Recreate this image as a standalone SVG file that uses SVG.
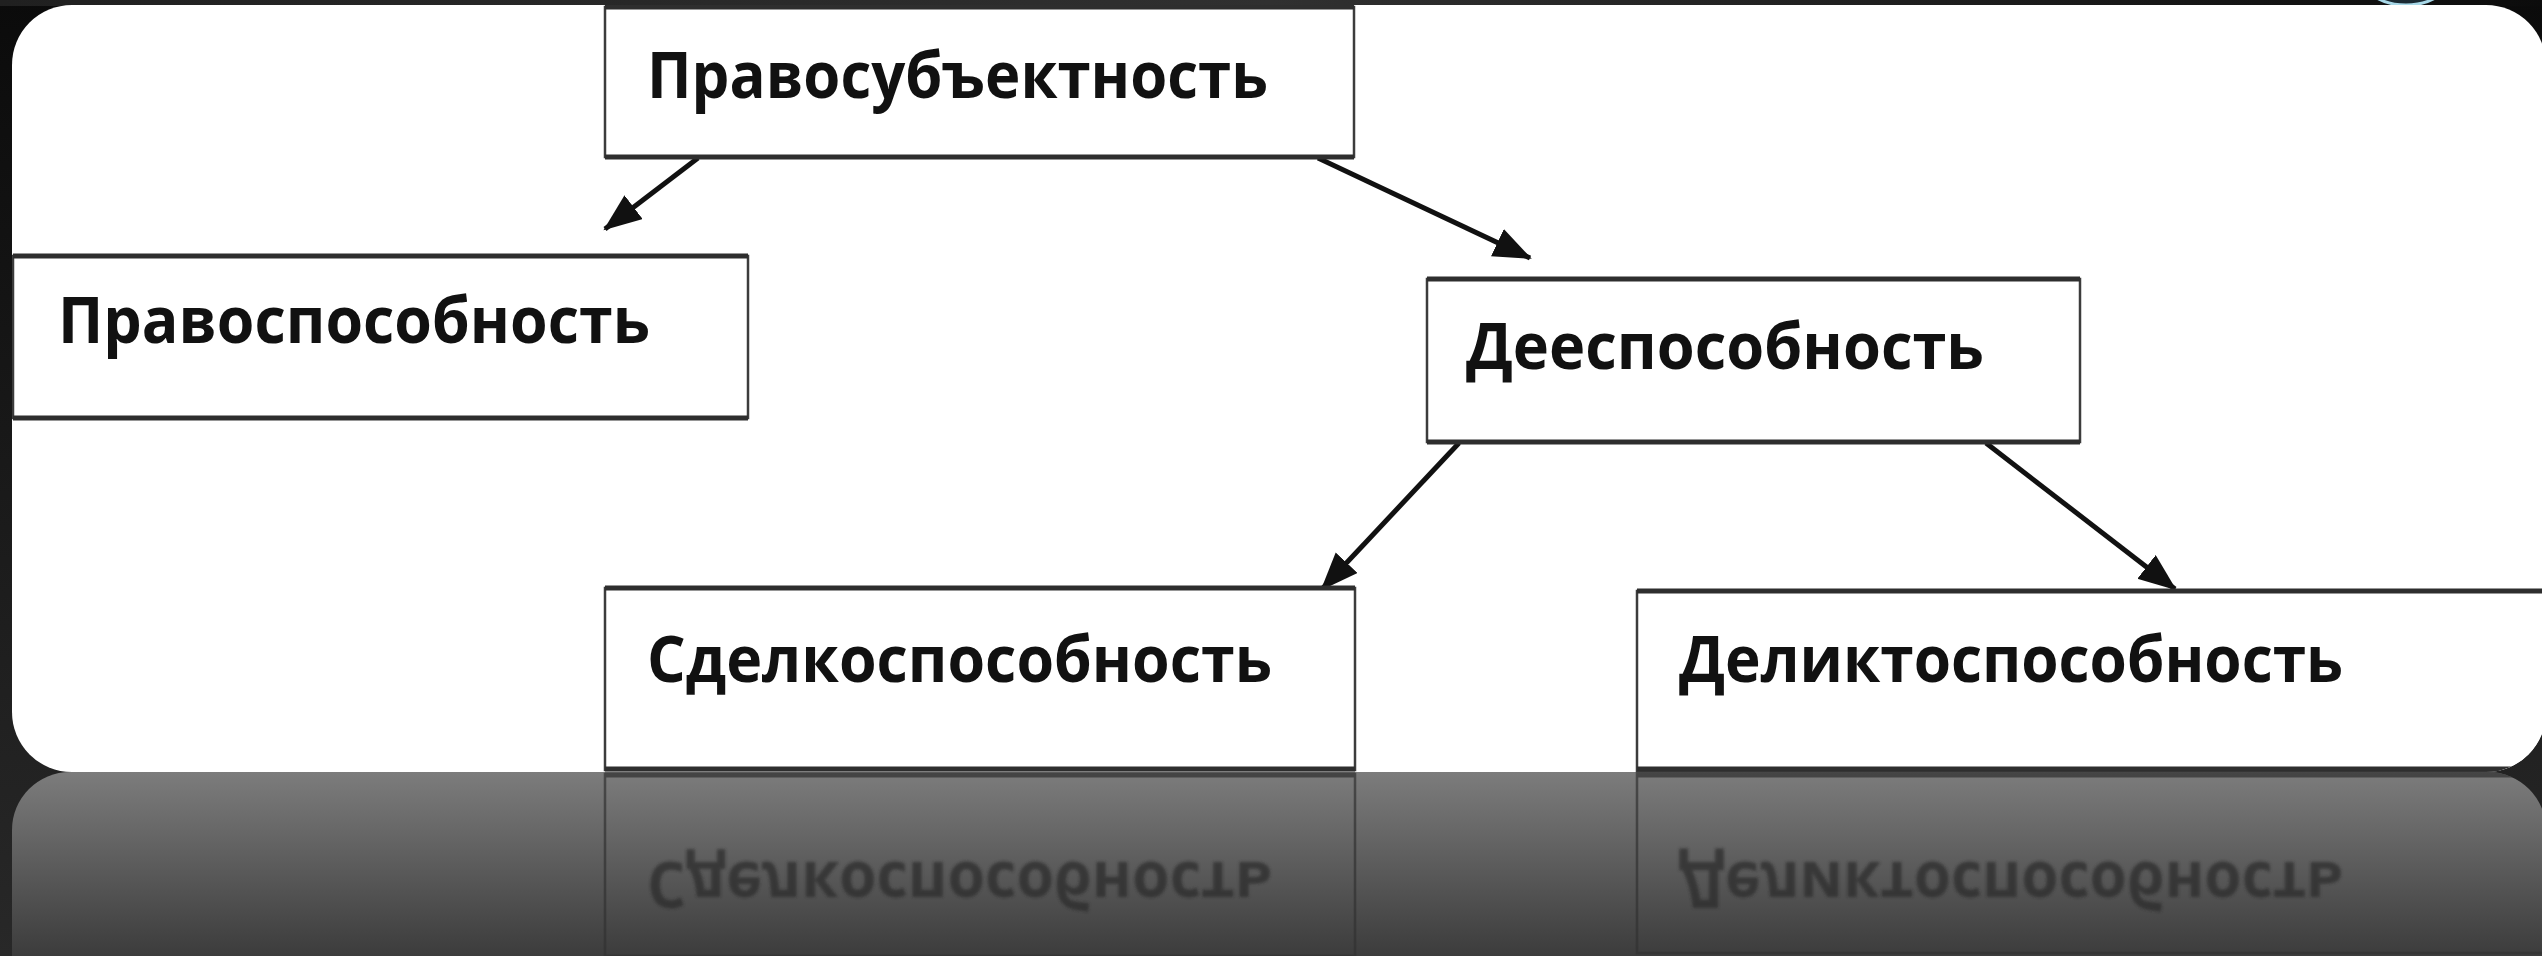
<svg xmlns="http://www.w3.org/2000/svg" width="2542" height="956" viewBox="0 0 2542 956">
  <defs>
    <style>
      .box { fill: #ffffff; stroke: #3c3c3c; stroke-width: 2.5; }
      .hedge { stroke: #2e2e2e; stroke-width: 5; fill: none; }
      .label { font-family: "Open Sans", "Noto Sans", "Liberation Sans", sans-serif; font-weight: 700; font-size: 64px; fill: #111111; }
      .conn { stroke: #111111; stroke-width: 5; fill: none; marker-end: url(#arrow); }
      .rbox { fill: none; stroke: #333333; stroke-width: 2.5; }
      .rlabel { font-family: "Open Sans", "Noto Sans", "Liberation Sans", sans-serif; font-weight: 700; font-size: 64px; fill: #2a2a2a; }
    </style>
    <linearGradient id="bgGrad" x1="0" y1="0" x2="0" y2="1">
      <stop offset="0" stop-color="#0b0b0b"/>
      <stop offset="1" stop-color="#282828"/>
    </linearGradient>
    <linearGradient id="topBand" x1="0" y1="0" x2="1" y2="0">
      <stop offset="0" stop-color="#202020"/>
      <stop offset="0.5" stop-color="#303030"/>
      <stop offset="1" stop-color="#0c0c0c"/>
    </linearGradient>
    <linearGradient id="reflGrad" x1="0" y1="772" x2="0" y2="956" gradientUnits="userSpaceOnUse">
      <stop offset="0" stop-color="#7c7c7c"/>
      <stop offset="1" stop-color="#3c3c3c"/>
    </linearGradient>
    <clipPath id="panelClip">
      <rect x="12" y="5" width="2534" height="767" rx="60" ry="60"/>
    </clipPath>
    <clipPath id="reflClip">
      <rect x="12" y="772" width="2534" height="400" rx="58" ry="58"/>
    </clipPath>
    <filter id="soft" x="-5%" y="-20%" width="110%" height="140%">
      <feGaussianBlur stdDeviation="1.6"/>
    </filter>
    <marker id="arrow" markerUnits="userSpaceOnUse" markerWidth="44" markerHeight="34" refX="36" refY="15" orient="auto">
      <path d="M0,0 L38,15 L0,30 z" fill="#111111"/>
    </marker>
  </defs>

  <!-- background -->
  <rect x="0" y="0" width="2542" height="956" fill="url(#bgGrad)"/>
  <rect x="0" y="0" width="2542" height="6" fill="url(#topBand)"/>
  <ellipse cx="2406" cy="-20" rx="42" ry="25" fill="#1b2a33" stroke="#a8d8e8" stroke-width="3"/>

  <!-- white panel -->
  <rect x="12" y="5" width="2534" height="767" rx="60" ry="60" fill="#ffffff"/>

  <!-- reflection band -->
  <rect x="12" y="772" width="2534" height="400" rx="58" ry="58" fill="url(#reflGrad)"/>
  <g id="reflection" clip-path="url(#reflClip)">
    <g transform="translate(0,1544) scale(1,-1)" opacity="0.7">
      <rect class="rbox" x="605" y="588" width="750" height="182"/>
      <line class="hedge" x1="605" y1="769" x2="1355" y2="769" stroke="#2a2a2a"/>
      <rect class="rbox" x="1637" y="591" width="960" height="180"/>
      <line class="hedge" x1="1637" y1="769" x2="2546" y2="769" stroke="#2a2a2a"/>
      <g filter="url(#soft)">
        <text class="rlabel" x="647" y="682" textLength="625" lengthAdjust="spacingAndGlyphs">Сделкоспособность</text>
        <text class="rlabel" x="1679" y="682" textLength="664" lengthAdjust="spacingAndGlyphs">Деликтоспособность</text>
      </g>
    </g>
  </g>

  <g clip-path="url(#panelClip)">
    <!-- connectors -->
    <g id="connectors">
      <line class="conn" x1="698" y1="158" x2="605" y2="229"/>
      <line class="conn" x1="1318" y1="158" x2="1530" y2="258"/>
      <line class="conn" x1="1459" y1="443" x2="1322" y2="589"/>
      <line class="conn" x1="1986" y1="443" x2="2175" y2="589"/>
    </g>

    <g id="node-pravosubektnost">
      <rect class="box" x="605" y="7" width="749" height="150"/>
      <line class="hedge" x1="605" y1="7" x2="1354" y2="7"/>
      <line class="hedge" x1="605" y1="157" x2="1354" y2="157"/>
      <text class="label" x="647" y="98" textLength="621" lengthAdjust="spacingAndGlyphs">Правосубъектность</text>
    </g>

    <g id="node-pravosposobnost">
      <rect class="box" x="13" y="256" width="735" height="162"/>
      <line class="hedge" x1="13" y1="256" x2="748" y2="256"/>
      <line class="hedge" x1="13" y1="418" x2="748" y2="418"/>
      <text class="label" x="58" y="343" textLength="592" lengthAdjust="spacingAndGlyphs">Правоспособность</text>
    </g>

    <g id="node-deesposobnost">
      <rect class="box" x="1427" y="279" width="653" height="163"/>
      <line class="hedge" x1="1427" y1="279" x2="2080" y2="279"/>
      <line class="hedge" x1="1427" y1="442" x2="2080" y2="442"/>
      <text class="label" x="1466" y="369" textLength="518" lengthAdjust="spacingAndGlyphs">Дееспособность</text>
    </g>

    <g id="node-sdelkosposobnost">
      <rect class="box" x="605" y="588" width="750" height="182"/>
      <line class="hedge" x1="605" y1="588" x2="1355" y2="588"/>
      <line class="hedge" x1="605" y1="769" x2="1355" y2="769"/>
      <text class="label" x="647" y="682" textLength="625" lengthAdjust="spacingAndGlyphs">Сделкоспособность</text>
    </g>

    <g id="node-deliktosposobnost">
      <rect class="box" x="1637" y="591" width="960" height="180"/>
      <line class="hedge" x1="1637" y1="591" x2="2546" y2="591"/>
      <line class="hedge" x1="1637" y1="769" x2="2546" y2="769"/>
      <text class="label" x="1679" y="682" textLength="664" lengthAdjust="spacingAndGlyphs">Деликтоспособность</text>
    </g>
  </g>
</svg>
